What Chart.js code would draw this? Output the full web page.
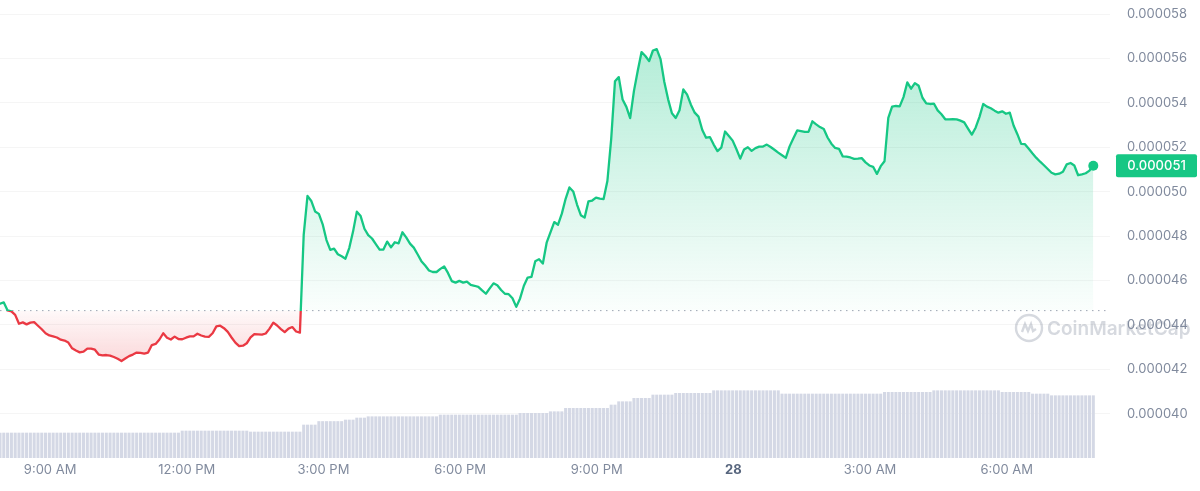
<!DOCTYPE html>
<html>
<head>
<meta charset="utf-8">
<script src="https://cdn.jsdelivr.net/npm/chart.js@4.4.1/dist/chart.umd.min.js"></script>
<style>
  html, body { margin: 0; padding: 0; background: #ffffff; }
  #wrap { width: 1200px; height: 491px; position: relative; }
</style>
</head>
<body>
<div id="wrap"><canvas id="c"></canvas></div>
<script>
// Price in millionths of a dollar (1 = 0.000001), one value every 5 minutes
const priceMicro = [
  44.95,45.01,44.65,44.61,44.45,44.05,44.11,44.02,44.10,44.12,
  43.96,43.80,43.62,43.52,43.48,43.43,43.33,43.29,43.20,42.94,
  42.84,42.76,42.79,42.93,42.93,42.88,42.66,42.62,42.64,42.61,
  42.55,42.47,42.37,42.48,42.59,42.66,42.75,42.74,42.70,42.75,
  43.09,43.14,43.34,43.62,43.42,43.34,43.47,43.36,43.35,43.42,
  43.48,43.48,43.60,43.52,43.47,43.46,43.62,43.93,43.96,43.85,
  43.68,43.43,43.20,43.04,43.06,43.17,43.43,43.58,43.57,43.56,
  43.61,43.83,44.10,43.97,43.81,43.67,43.83,43.90,43.70,43.65,
  48.05,49.81,49.58,49.11,49.00,48.53,47.82,47.38,47.43,47.18,
  47.09,46.98,47.46,48.20,49.10,48.90,48.33,48.04,47.89,47.64,
  47.39,47.39,47.75,47.49,47.72,47.67,48.17,47.94,47.66,47.48,
  47.18,46.87,46.67,46.45,46.38,46.38,46.52,46.63,46.34,45.97,
  45.90,45.98,45.90,45.95,45.80,45.76,45.71,45.55,45.40,45.64,
  45.87,45.78,45.57,45.40,45.38,45.20,44.81,45.19,45.76,46.13,
  46.16,46.86,46.96,46.76,47.70,48.17,48.63,48.51,49.01,49.68,
  50.19,50.01,49.42,48.94,48.83,49.56,49.60,49.73,49.69,49.67,
  50.48,52.37,54.97,55.16,54.15,53.82,53.31,54.54,55.45,56.29,
  56.11,55.88,56.36,56.42,55.97,54.94,54.16,53.53,53.32,53.67,
  54.61,54.37,53.92,53.56,53.38,52.78,52.43,52.46,52.12,51.83,
  51.98,52.71,52.51,52.30,51.91,51.49,51.90,52.00,51.84,51.96,
  52.03,52.03,52.12,52.01,51.89,51.76,51.64,51.52,52.04,52.41,
  52.76,52.73,52.69,52.70,53.17,53.03,52.91,52.82,52.44,52.16,
  51.97,51.93,51.59,51.58,51.54,51.48,51.49,51.51,51.32,51.18,
  51.12,50.80,51.15,51.37,53.32,53.83,53.86,53.84,54.26,54.92,
  54.64,54.89,54.77,54.23,53.98,53.95,53.97,53.66,53.49,53.26,
  53.26,53.27,53.26,53.20,53.12,52.84,52.57,52.88,53.36,53.95,
  53.83,53.76,53.65,53.56,53.62,53.51,53.56,52.98,52.59,52.15,
  52.14,51.93,51.72,51.52,51.35,51.19,51.02,50.85,50.78,50.81,
  50.90,51.23,51.29,51.18,50.74,50.78,50.83,50.95,51.17
];

// Volume (relative units), one bar every 5 minutes
const volume = [
  25,25,25,25,25,25,25,25,25,25,
  25,25,25,25,25,25,25,25,25,25,
  25,25,25,25,25,25,25,25,25,25,
  25,25,25,25,25,25,25,25,25,25,
  25,25,25,25,25,25,25,25,27,27,
  27,27,27,27,27,27,27,27,27,27,
  27,27,27,27,27,27,26,26,26,26,
  26,26,26,26,26,26,26,26,26,26,
  33,33,33,33,36.5,36.5,36.5,36.5,36.5,36.5,
  36.5,38,38,38,40,40,40,41.3,41.3,41.3,
  41.3,41.3,41.3,41.3,41.3,41.3,41.3,41.3,41.3,41.3,
  41.3,41.3,41.3,41.3,41.3,41.3,43,43,43,43,
  43,43,43,43,43,43,43,43,43,43,
  43,43,43,43,43,43,43,44.7,44.7,44.7,
  44.7,44.7,44.7,44.7,44.7,46.3,46.3,46.3,46.3,49.7,
  49.7,49.7,49.7,49.7,49.7,49.7,49.7,49.7,49.7,49.7,
  49.7,53,53,56.3,56.3,56.3,56.3,59.7,59.7,59.7,
  59.7,59.7,63,63,63,63,63,63,64.7,64.7,
  64.7,64.7,64.7,64.7,64.7,64.7,64.7,64.7,67.3,67.3,
  67.3,67.3,67.3,67.3,67.3,67.3,67.3,67.3,67.3,67.3,
  67.3,67.3,67.3,67.3,67.3,67.3,64,64,64,64,
  64,64,64,64,64,64,64,64,64,64,
  64,64,64,64,64,64,64,64,64,64,
  64,64,64,65.7,65.7,65.7,65.7,65.7,65.7,65.7,
  65.7,65.7,65.7,65.7,65.7,65.7,67.3,67.3,67.3,67.3,
  67.3,67.3,67.3,67.3,67.3,67.3,67.3,67.3,67.3,67.3,
  67.3,67.3,67.3,67.3,65.7,65.7,65.7,65.7,65.7,65.7,
  65.7,65.7,64,64,64,64,64,62.3,62.3,62.3,
  62.3,62.3,62.3,62.3,62.3,62.3,62.3,62.3,62.3
];

const startMinute = 474;        // 7:54 AM on day 27 (minutes since midnight)
const stepMinutes = 5;
const xMin = 474;
const xMax = 1936;
const BASELINE = 44.64;         // price 24h ago (dotted reference line)
const VOLUME_AXIS_MAX = 455;

const priceTickValues = [40, 42, 44, 46, 48, 50, 52, 54, 56, 58];
const priceTickLabels = ['0.000040','0.000042','0.000044','0.000046','0.000048','0.000050','0.000052','0.000054','0.000056','0.000058'];
const timeTickValues = [540, 720, 900, 1080, 1260, 1440, 1620, 1800];
const timeTickLabels = ['9:00 AM','12:00 PM','3:00 PM','6:00 PM','9:00 PM','28','3:00 AM','6:00 AM'];
const dayChangeTick = 1440;

const GREEN = '#16c784';
const RED = '#ea3943';

const times = priceMicro.map((_, i) => startMinute + i * stepMinutes);
const pricePoints = priceMicro.map((v, i) => ({ x: times[i], y: v }));
const volumePoints = volume.map((v, i) => ({ x: times[i], y: v }));
const baselinePoints = [{ x: xMin, y: BASELINE }, { x: xMax, y: BASELINE }];
const lastPrice = priceMicro[priceMicro.length - 1];

function clamp01(f) { return Math.max(0, Math.min(1, f)); }

function lineGradient(chart) {
  const { ctx, chartArea, scales } = chart;
  if (!chartArea || !scales.y) return GREEN;
  const h = chartArea.bottom - chartArea.top;
  const f = clamp01((scales.y.getPixelForValue(BASELINE) - chartArea.top) / h);
  const g = ctx.createLinearGradient(0, chartArea.top, 0, chartArea.bottom);
  g.addColorStop(0, GREEN);
  g.addColorStop(f, GREEN);
  g.addColorStop(clamp01(f + 0.0005), RED);
  g.addColorStop(1, RED);
  return g;
}

function fillGradient(chart) {
  const { ctx, chartArea, scales } = chart;
  if (!chartArea || !scales.y) return 'rgba(22,199,132,0.15)';
  const h = chartArea.bottom - chartArea.top;
  const y = scales.y;
  const fTop = clamp01((y.getPixelForValue(56.5) - chartArea.top) / h);
  const fBase = clamp01((y.getPixelForValue(BASELINE) - chartArea.top) / h);
  const fLow = clamp01((y.getPixelForValue(42.3) - chartArea.top) / h);
  const g = ctx.createLinearGradient(0, chartArea.top, 0, chartArea.bottom);
  g.addColorStop(0, 'rgba(22,199,132,0.34)');
  g.addColorStop(fTop, 'rgba(22,199,132,0.32)');
  g.addColorStop(fBase, 'rgba(22,199,132,0.02)');
  g.addColorStop(clamp01(fBase + 0.0005), 'rgba(234,57,67,0.03)');
  g.addColorStop(fLow, 'rgba(234,57,67,0.2)');
  g.addColorStop(1, 'rgba(234,57,67,0.2)');
  return g;
}

const watermarkPlugin = {
  id: 'watermark',
  beforeDraw(chart) {
    const ctx = chart.ctx;
    ctx.save();
    const cx = 1029, cy = 328, r = 13;
    ctx.strokeStyle = '#d6d9df';
    ctx.lineWidth = 2.4;
    ctx.beginPath();
    ctx.arc(cx, cy, r, 0, Math.PI * 2);
    ctx.stroke();
    ctx.beginPath();
    ctx.moveTo(cx - 7, cy + 4);
    ctx.lineTo(cx - 4, cy - 4);
    ctx.lineTo(cx - 1, cy + 3);
    ctx.lineTo(cx + 2, cy - 4);
    ctx.lineTo(cx + 4, cy + 3);
    ctx.lineTo(cx + 7, cy + 1);
    ctx.stroke();
    ctx.fillStyle = '#d6d9df';
    ctx.font = '600 19px Inter, "Noto Sans", sans-serif';
    ctx.textBaseline = 'middle';
    ctx.textAlign = 'left';
    ctx.fillText('CoinMarketCap', 1047, cy + 1);
    ctx.restore();
  }
};

const priceTagPlugin = {
  id: 'priceTag',
  afterDraw(chart) {
    const ctx = chart.ctx;
    const area = chart.chartArea;
    const y = chart.scales.y.getPixelForValue(lastPrice);
    const label = (lastPrice / 1e6).toFixed(6);
    const x0 = area.right + 6, w = 81, h = 23;
    ctx.save();
    ctx.fillStyle = GREEN;
    ctx.beginPath();
    if (ctx.roundRect) ctx.roundRect(x0, y - h / 2, w, h, 2); else ctx.rect(x0, y - h / 2, w, h);
    ctx.fill();
    ctx.fillStyle = '#ffffff';
    ctx.font = '500 13px Inter, "Noto Sans", sans-serif';
    ctx.textAlign = 'center';
    ctx.textBaseline = 'middle';
    ctx.fillText(label, x0 + w / 2, y + 0.5);
    ctx.restore();
  }
};

new Chart(document.getElementById('c'), {
  type: 'line',
  data: {
    datasets: [
      {
        label: 'Price',
        data: pricePoints,
        yAxisID: 'y',
        order: 1,
        borderWidth: 2.3,
        borderColor: (c) => lineGradient(c.chart),
        backgroundColor: (c) => fillGradient(c.chart),
        fill: { value: BASELINE },
        tension: 0,
        borderJoinStyle: 'round',
        borderCapStyle: 'round',
        pointRadius: (c) => (c.dataIndex === priceMicro.length - 1 ? 5 : 0),
        pointHoverRadius: 0,
        pointBackgroundColor: GREEN,
        pointBorderWidth: 0
      },
      {
        label: 'Reference',
        data: baselinePoints,
        yAxisID: 'y',
        order: 2,
        borderColor: 'rgba(128,136,155,0.75)',
        borderWidth: 1,
        borderDash: [1.5, 4.5],
        pointRadius: 0,
        fill: false
      },
      {
        type: 'bar',
        label: 'Volume',
        data: volumePoints,
        yAxisID: 'yVol',
        order: 3,
        backgroundColor: 'rgb(212,216,229)',
        barThickness: 2.4,
        borderWidth: 0
      }
    ]
  },
  options: {
    responsive: true,
    maintainAspectRatio: false,
    animation: false,
    layout: { autoPadding: false, padding: { top: 3, left: 0, right: 0, bottom: 0 } },
    plugins: { legend: { display: false }, tooltip: { enabled: false } },
    scales: {
      x: {
        type: 'linear',
        min: xMin,
        max: xMax,
        offset: false,
        grid: { display: false, drawTicks: false },
        border: { display: false },
        afterBuildTicks: (s) => { s.ticks = timeTickValues.map((v) => ({ value: v })); },
        afterFit: (s) => { s.height = 33; s.paddingLeft = 0; s.paddingRight = 0; },
        ticks: {
          autoSkip: false,
          maxRotation: 0,
          padding: 4,
          color: (c) => (c.tick && c.tick.value === dayChangeTick ? '#58667e' : '#808a9d'),
          font: (c) => ({ family: 'Inter', size: 13, weight: (c.tick && c.tick.value === dayChangeTick) ? '700' : '400' }),
          callback: (v) => timeTickLabels[timeTickValues.indexOf(v)]
        }
      },
      y: {
        position: 'right',
        min: 38,
        max: 58.5,
        afterBuildTicks: (s) => { s.ticks = priceTickValues.map((v) => ({ value: v })); },
        afterFit: (s) => { s.width = 90; s.paddingTop = 0; s.paddingBottom = 0; },
        grid: { color: 'rgba(0,0,0,0.04)', drawTicks: false },
        border: { display: false },
        ticks: {
          padding: 17,
          color: '#808a9d',
          font: { family: 'Inter', size: 13 },
          callback: (v) => priceTickLabels[priceTickValues.indexOf(v)]
        }
      },
      yVol: {
        display: false,
        min: 0,
        max: VOLUME_AXIS_MAX
      }
    }
  },
  plugins: [watermarkPlugin, priceTagPlugin]
});
</script>
</body>
</html>
